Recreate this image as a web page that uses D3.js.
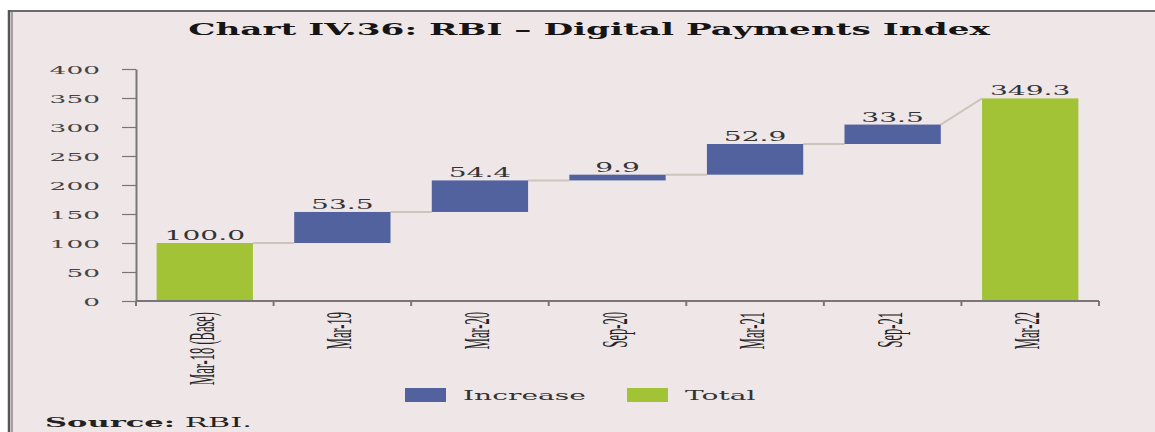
<!DOCTYPE html>
<html>
<head>
<meta charset="utf-8">
<script src="https://cdn.jsdelivr.net/npm/d3@7"></script>
<style>
  html, body { margin: 0; padding: 0; background: #ffffff; }
  svg { display: block; }
</style>
</head>
<body>
<svg id="chart"></svg>
<script>
// 数据
var categories = ['Mar-18 (Base)', 'Mar-19', 'Mar-20', 'Sep-20', 'Mar-21', 'Sep-21', 'Mar-22'];
var values = [100.0, 53.5, 54.4, 9.9, 52.9, 33.5, 349.3];
var kinds = ['Total', 'Increase', 'Increase', 'Increase', 'Increase', 'Increase', 'Total'];
var yTicks = [0, 50, 100, 150, 200, 250, 300, 350, 400];
var legendItems = ['Increase', 'Total'];

var width = 1155, height = 432;
var colors = { Increase: '#52629f', Total: '#a3c336' };

var svg = d3.select('#chart').attr('width', width).attr('height', height);

// 背景和边框
svg.append('rect').attr('x', 9).attr('y', 11).attr('width', width).attr('height', height)
    .attr('fill', '#efe6e8');
svg.append('line').attr('x1', 8).attr('x2', width).attr('y1', 11).attr('y2', 11)
    .attr('stroke', '#6b6b6b').attr('stroke-width', 2);
svg.append('line').attr('x1', 9).attr('x2', 9).attr('y1', 10).attr('y2', height)
    .attr('stroke', '#555').attr('stroke-width', 2.5);
svg.append('line').attr('x1', 12).attr('x2', 12).attr('y1', 12).attr('y2', height)
    .attr('stroke', '#8a8a8a').attr('stroke-width', 1.5);

// 横向拉伸文字
function stretch(sel, x, y, sx) {
    sel.attr('transform', 'translate(' + x + ',' + y + ') scale(' + sx + ',1)');
}

// 标题
var title = svg.append('text')
    .attr('font-family', 'DejaVu Serif').attr('font-weight', 'bold').attr('font-size', 16.5)
    .attr('fill', '#151515').attr('text-anchor', 'middle')
    .text('Chart IV.36: RBI \u2013 Digital Payments Index');
var tw = title.node().getComputedTextLength();
stretch(title, 589, 35, 802 / tw);

// 比例尺
var x = d3.scaleBand().domain(categories).range([136, 1099]).paddingInner(0.3).paddingOuter(0.15);
var y = d3.scaleLinear().domain([0, 400]).range([301, 69]);

// 瀑布数据
var running = 0;
var bars = values.map(function(v, i) {
    var d = { cat: categories[i], kind: kinds[i], value: v };
    if (kinds[i] === 'Total') {
        d.base = 0; d.end = v; d.join = v;
    } else {
        d.base = running; d.end = running + v; d.join = running;
    }
    running = d.end;
    return d;
});

// 连接线
var links = bars.slice(0, -1).map(function(d, i) { return [d, bars[i + 1]]; });
svg.append('g').selectAll('line')
    .data(links)
    .enter()
    .append('line')
    .attr('x1', function(d) { return x(d[0].cat) + x.bandwidth(); })
    .attr('y1', function(d) { return y(d[0].end); })
    .attr('x2', function(d) { return x(d[1].cat); })
    .attr('y2', function(d) { return y(d[1].join); })
    .attr('stroke', '#cdc4bd').attr('stroke-width', 2);

// 柱子
svg.append('g').selectAll('rect')
    .data(bars)
    .enter()
    .append('rect')
    .attr('x', function(d) { return x(d.cat); })
    .attr('y', function(d) { return y(d.end); })
    .attr('width', x.bandwidth())
    .attr('height', function(d) { return y(d.base) - y(d.end); })
    .attr('fill', function(d) { return colors[d.kind]; });

// 数值标签
svg.append('g').selectAll('text')
    .data(bars)
    .enter()
    .append('text')
    .attr('font-family', 'DejaVu Serif').attr('font-size', 12.5)
    .attr('fill', '#333').attr('text-anchor', 'middle')
    .attr('transform', function(d) {
        return 'translate(' + (x(d.cat) + x.bandwidth() / 2) + ',' + (y(d.end) - 3) + ') scale(2.25,1)';
    })
    .text(function(d) { return d.value.toFixed(1); });

// Y 轴
var yAxis = svg.append('g').attr('transform', 'translate(136,0)')
    .call(d3.axisLeft(y).tickValues(yTicks).tickSize(14).tickPadding(0).tickSizeOuter(0));
yAxis.select('.domain').attr('stroke', '#777').attr('stroke-width', 2);
yAxis.selectAll('.tick line').attr('stroke', '#777').attr('stroke-width', 1.2);
yAxis.selectAll('.tick text').remove();
yAxis.selectAll('.tick').append('text')
    .attr('font-family', 'DejaVu Serif').attr('font-size', 11)
    .attr('fill', '#444').attr('text-anchor', 'end')
    .attr('transform', 'translate(-36,4) scale(2.4,1)')
    .text(function(d) { return d; });

// X 轴
var xAxis = svg.append('g').attr('transform', 'translate(0,301)');
xAxis.append('line').attr('x1', 136).attr('x2', 1099).attr('y1', 0).attr('y2', 0)
    .attr('stroke', '#777').attr('stroke-width', 2);
xAxis.selectAll('.sep')
    .data(categories.concat(['end']))
    .enter()
    .append('line')
    .attr('x1', function(d, i) { return 136 + i * x.step(); })
    .attr('x2', function(d, i) { return 136 + i * x.step(); })
    .attr('y1', 0).attr('y2', 5)
    .attr('stroke', '#777').attr('stroke-width', 2);
xAxis.selectAll('.cat')
    .data(categories)
    .enter()
    .append('text')
    .attr('font-family', 'Liberation Serif').attr('font-size', 12.5)
    .attr('fill', '#222').attr('text-anchor', 'end')
    .attr('transform', function(d) {
        return 'translate(' + (x(d) + x.bandwidth() / 2 + 9) + ',11) rotate(-90) scale(1,2.9)';
    })
    .text(function(d) { return d; });

// 图例
var legend = svg.append('g').selectAll('g')
    .data(legendItems)
    .enter()
    .append('g')
    .attr('transform', function(d, i) { return 'translate(' + (405 + i * 222) + ',388)'; });
legend.append('rect').attr('width', 41).attr('height', 14)
    .attr('fill', function(d) { return colors[d]; });
legend.append('text')
    .attr('font-family', 'DejaVu Serif').attr('font-size', 12.5)
    .attr('fill', '#333')
    .attr('transform', 'translate(58,12) scale(2.25,1)')
    .text(function(d) { return d; });

// 来源
var src = svg.append('text')
    .attr('font-family', 'DejaVu Serif').attr('font-size', 13).attr('fill', '#222')
    .attr('transform', 'translate(45,427) scale(2.35,1)');
src.append('tspan').attr('font-weight', 'bold').text('Source:');
src.append('tspan').text(' RBI.');
</script>
</body>
</html>
